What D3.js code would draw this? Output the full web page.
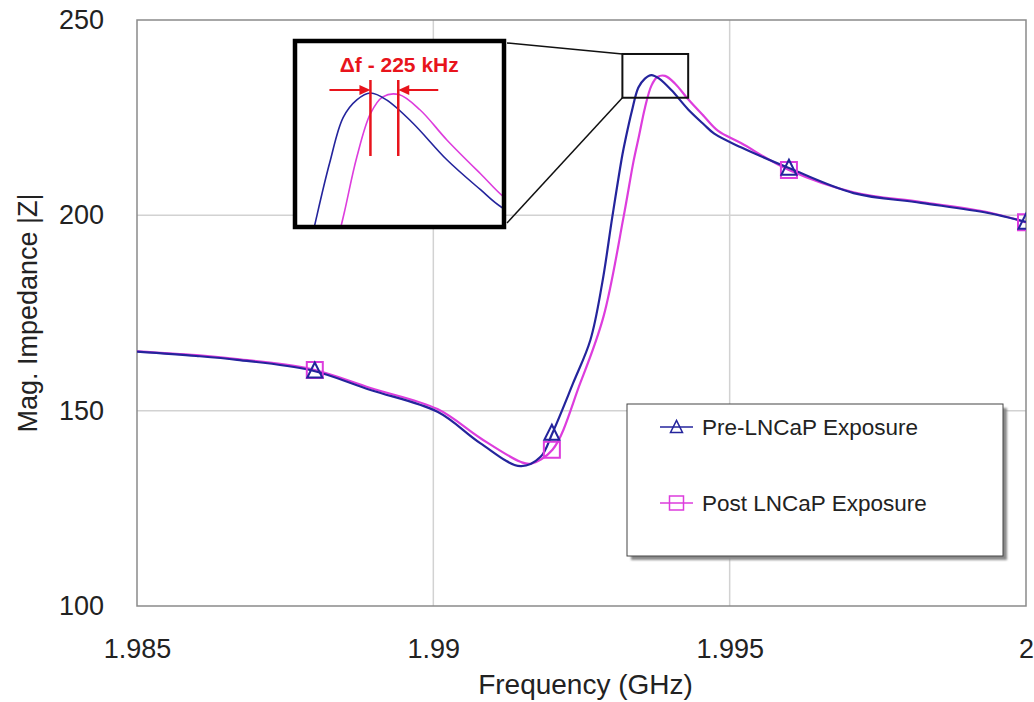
<!DOCTYPE html>
<html><head><meta charset="utf-8">
<script src="https://cdn.jsdelivr.net/npm/d3@7"></script>
<style>body{margin:0;background:#fff}svg{display:block}text{font-family:Arial,"Liberation Sans",sans-serif}</style>
</head><body><svg id="c" width="1034" height="702"></svg>
<script>
// ---- data ----
const freqPre = [1.98500,1.98600,1.98669,1.98792,1.98894,1.99007,1.99079,1.99147,1.99181,1.99201,1.99236,1.99265,1.99285,1.99302,1.99319,1.99325,1.99335,1.99346,1.99357,1.99368,1.99381,1.99402,1.99430,1.99457,1.99474,1.99519,1.99600,1.99709,1.99823,1.99936,2.00000];
const magPre  = [165.1,164.0,163.0,160.4,155.3,149.7,141.7,135.8,138.2,144.3,157.1,168.1,182.7,199.6,215.5,220.0,226.7,232.7,235.0,235.9,235.0,232.0,227.1,223.2,220.9,217.4,212.1,205.7,203.2,200.6,198.3];
const freqPost = [1.98500,1.98600,1.98669,1.98792,1.98894,1.99007,1.99079,1.99147,1.99164,1.99201,1.99248,1.99287,1.99321,1.99338,1.99347,1.99357,1.99368,1.99378,1.99391,1.99408,1.99430,1.99457,1.99480,1.99519,1.99600,1.99709,1.99823,1.99936,2.00000];
const magPost  = [165.2,164.2,163.2,160.7,155.8,150.4,143.0,136.9,136.4,140.0,157.1,174.0,199.6,214.0,220.3,227.5,233.2,235.4,235.7,233.7,229.7,225.3,221.7,218.5,211.6,205.9,203.4,200.8,198.2];
const markerFreqs = [1.988, 1.992, 1.996, 2.000];
const markerPre   = [160.2, 144.3, 212.1, 198.3];
const markerPost  = [160.4, 140.0, 211.6, 198.2];
const xTicks = [1.985, 1.990, 1.995, 2.000];
const xTickLabels = ["1.985", "1.99", "1.995", "2"];
const yTicks = [100, 150, 200, 250];
const yTickLabels = ["100", "150", "200", "250"];
const seriesNames = ["Pre-LNCaP Exposure", "Post LNCaP Exposure"];
const xTitle = "Frequency (GHz)";
const yTitle = "Mag. Impedance |Z|";
const zoomFreq = [1.99319, 1.99430];   // region magnified in the inset
const zoomMag  = [230.1, 241.3];
const insetFreq = [1.99307, 1.99476];  // inset axis domains
const insetMag  = [218.3, 242.6];
const peakShiftGHz = 0.000225;
const annotation = "Δf - 225 kHz";

// ---- layout ----
const W = 1034, H = 702;
const m = {l:137, r:8, t:20, b:96};
const svg = d3.select("#c");
const x = d3.scaleLinear().domain([1.985, 2.0]).range([m.l, W - m.r]);
const y = d3.scaleLinear().domain([100, 250]).range([H - m.b, m.t]);
const blue = "#24249c", pink = "#dd3ddd", red = "#e8141c", txt = "#222";

const defs = svg.append("defs");
defs.append("clipPath").attr("id","plotClip").append("rect")
  .attr("x", m.l).attr("y", m.t).attr("width", W-m.l-m.r).attr("height", H-m.t-m.b);
defs.append("clipPath").attr("id","insetClip").append("rect")
  .attr("x", 295).attr("y", 42).attr("width", 209).attr("height", 185);
const blur = defs.append("filter").attr("id","shadow");
blur.append("feGaussianBlur").attr("stdDeviation", 1.2);

// grid
svg.append("g").selectAll("line").data(xTicks.slice(1,-1)).join("line")
  .attr("x1", d=>x(d)).attr("x2", d=>x(d)).attr("y1", y(100)).attr("y2", y(250))
  .attr("stroke", "#d2d2d2").attr("stroke-width", 1.5);
svg.append("g").selectAll("line").data(yTicks.slice(1,-1)).join("line")
  .attr("y1", d=>y(d)).attr("y2", d=>y(d)).attr("x1", x(1.985)).attr("x2", x(2.0))
  .attr("stroke", "#d2d2d2").attr("stroke-width", 1.5);

// frame
svg.append("rect").attr("x", x(1.985)).attr("y", y(250))
  .attr("width", x(2.0)-x(1.985)).attr("height", y(100)-y(250))
  .attr("fill","none").attr("stroke","#8a8a8a").attr("stroke-width",1.5);

// axes
const xa = svg.append("g").attr("transform", `translate(0,${y(100)})`)
  .call(d3.axisBottom(x).tickValues(xTicks).tickFormat((d,i)=>xTickLabels[i]).tickSize(0).tickPadding(33));
const ya = svg.append("g").attr("transform", `translate(${x(1.985)},0)`)
  .call(d3.axisLeft(y).tickValues(yTicks).tickFormat((d,i)=>yTickLabels[i]).tickSize(0).tickPadding(33));
[xa, ya].forEach(a => {
  a.select(".domain").remove();
  a.selectAll("text").attr("font-size", 27).attr("fill", txt).attr("font-family", "Arial, 'Liberation Sans', sans-serif");
});
svg.append("text").attr("x", (x(1.985)+x(2.0))/2 + 4).attr("y", 694)
  .attr("text-anchor","middle").attr("font-size", 28).attr("fill", txt).text(xTitle);
svg.append("text").attr("transform", `translate(37,${(y(100)+y(250))/2}) rotate(-90)`)
  .attr("text-anchor","middle").attr("font-size", 27).attr("fill", txt).text(yTitle);

// series
const pre = freqPre.map((f,i)=>({f, v: magPre[i]}));
const post = freqPost.map((f,i)=>({f, v: magPost[i]}));
const curve = d3.curveCatmullRom.alpha(0.5);
const line = d3.line().x(d=>x(d.f)).y(d=>y(d.v)).curve(curve);
const plot = svg.append("g").attr("clip-path","url(#plotClip)");
plot.append("path").datum(post).attr("d", line).attr("fill","none").attr("stroke", pink).attr("stroke-width", 2.2);
plot.append("path").datum(pre).attr("d", line).attr("fill","none").attr("stroke", blue).attr("stroke-width", 2.2);

const triPath = s => `M0,${-s*0.55}L${s*0.5},${s*0.45}L${-s*0.5},${s*0.45}Z`;
const sqPath = s => `M${-s/2},${-s/2}h${s}v${s}h${-s}Z`;
plot.append("g").selectAll("path").data(markerFreqs.map((f,i)=>({f, v: markerPost[i]}))).join("path")
  .attr("transform", d=>`translate(${x(d.f)},${y(d.v)})`).attr("d", sqPath(16))
  .attr("fill","none").attr("stroke", pink).attr("stroke-width", 2);
plot.append("g").selectAll("path").data(markerFreqs.map((f,i)=>({f, v: markerPre[i]}))).join("path")
  .attr("transform", d=>`translate(${x(d.f)},${y(d.v)})`).attr("d", triPath(15))
  .attr("fill","none").attr("stroke", blue).attr("stroke-width", 2);

// zoom source box + connectors
const zx0 = x(zoomFreq[0]), zx1 = x(zoomFreq[1]), zy0 = y(zoomMag[1]), zy1 = y(zoomMag[0]);
svg.append("rect").attr("x", zx0).attr("y", zy0).attr("width", zx1-zx0).attr("height", zy1-zy0)
  .attr("fill","none").attr("stroke","#111").attr("stroke-width", 2);
svg.append("line").attr("x1", 507).attr("y1", 43).attr("x2", zx0).attr("y2", zy0).attr("stroke","#111").attr("stroke-width",1.5);
svg.append("line").attr("x1", 507).attr("y1", 223).attr("x2", zx0).attr("y2", zy1).attr("stroke","#111").attr("stroke-width",1.5);

// inset
const ix = d3.scaleLinear().domain(insetFreq).range([295, 504]);
const iy = d3.scaleLinear().domain(insetMag).range([227, 42]);
svg.append("rect").attr("x", 295).attr("y", 41).attr("width", 209).attr("height", 186).attr("fill","#fff");
const ilin = d3.line().x(d=>ix(d.f)).y(d=>iy(d.v)).curve(curve);
const ig = svg.append("g").attr("clip-path","url(#insetClip)");
ig.append("path").datum(post).attr("d", ilin).attr("fill","none").attr("stroke", pink).attr("stroke-width", 1.6);
ig.append("path").datum(pre).attr("d", ilin).attr("fill","none").attr("stroke", blue).attr("stroke-width", 1.6);
svg.append("rect").attr("x", 295).attr("y", 41).attr("width", 209).attr("height", 186)
  .attr("fill","none").attr("stroke","#000").attr("stroke-width", 4.5);

// annotation
const peakF = pre.reduce((a,b)=> b.v > a.v ? b : a).f;
const lx1 = ix(peakF), lx2 = ix(peakF + peakShiftGHz);
const ann = svg.append("g").attr("stroke", red).attr("fill", red);
ann.append("line").attr("x1", lx1).attr("x2", lx1).attr("y1", 80).attr("y2", 156).attr("stroke-width", 2.5);
ann.append("line").attr("x1", lx2).attr("x2", lx2).attr("y1", 80).attr("y2", 156).attr("stroke-width", 2.5);
ann.append("line").attr("x1", lx1-41).attr("x2", lx1-8).attr("y1", 90).attr("y2", 90).attr("stroke-width", 2);
ann.append("path").attr("d", `M${lx1},90L${lx1-11},85L${lx1-11},95Z`).attr("stroke","none");
ann.append("line").attr("x1", lx2+40).attr("x2", lx2+8).attr("y1", 90).attr("y2", 90).attr("stroke-width", 2);
ann.append("path").attr("d", `M${lx2},90L${lx2+11},85L${lx2+11},95Z`).attr("stroke","none");
svg.append("text").attr("x", lx2 + 1).attr("y", 72).attr("text-anchor","middle")
  .attr("font-size", 21).attr("font-weight","bold").attr("fill", red).text(annotation);

// legend
const lg = svg.append("g");
lg.append("rect").attr("x", 631).attr("y", 408).attr("width", 376).attr("height", 152).attr("fill","#8a8a8a").attr("filter","url(#shadow)");
lg.append("rect").attr("x", 627).attr("y", 404).attr("width", 376).attr("height", 152).attr("fill","#fff").attr("stroke","#444").attr("stroke-width",1);
const legY = [427, 503];
const legCol = [blue, pink];
seriesNames.forEach((name, i) => {
  lg.append("line").attr("x1", 660).attr("x2", 693).attr("y1", legY[i]).attr("y2", legY[i]).attr("stroke", legCol[i]).attr("stroke-width", 1.5);
  lg.append("path").attr("transform", `translate(676.5,${legY[i]})`).attr("d", i===0 ? triPath(12) : sqPath(14))
    .attr("fill","none").attr("stroke", legCol[i]).attr("stroke-width", 1.5);
  lg.append("text").attr("x", 702).attr("y", legY[i] + 8).attr("font-size", 22.5).attr("fill", txt).text(name);
});
</script></body></html>
